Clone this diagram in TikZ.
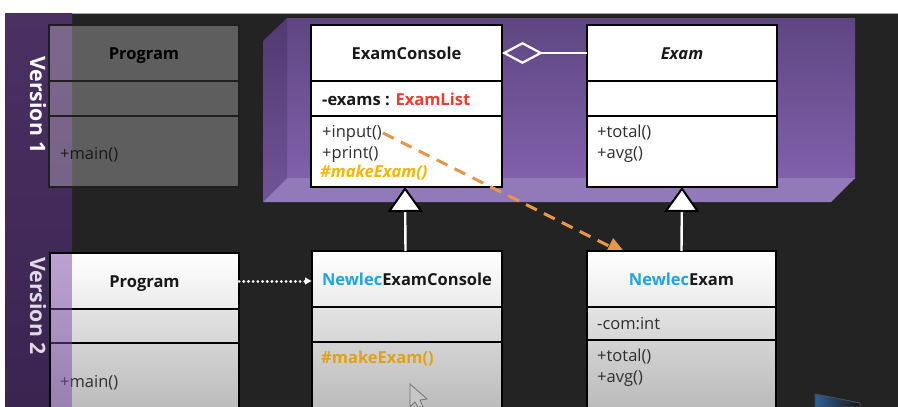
\documentclass[tikz,border=0pt]{standalone}
\usepackage{fontspec}
\setmainfont{Open Sans}
\usetikzlibrary{arrows.meta}
\definecolor{bgdark}{HTML}{232323}
\definecolor{bandtop}{HTML}{4B3064}
\definecolor{bandbot}{HTML}{3A2450}
\definecolor{newlecblue}{HTML}{1EA5E8}
\definecolor{makeyellow}{HTML}{F7B500}
\definecolor{makedim}{HTML}{DFA215}
\definecolor{listred}{HTML}{F03A2E}
\definecolor{dashorange}{HTML}{E8964A}
\definecolor{thumbblue}{HTML}{2D6098}
\tikzset{
  cell/.style={draw=black, line width=2.4pt, minimum width=#1, anchor=north west, outer sep=0pt, inner sep=0pt, text height=12pt, text depth=0pt, font=\fontsize{16.5}{18}\selectfont\bfseries, text=black!90},
  cell/.default=190pt,
  whitecell/.style={cell=#1, fill=white},
  newcell/.style={cell=#1, top color=white, bottom color=black!8},
  ghostcell/.style={cell=#1, draw=black!88, fill=white, fill opacity=0.27, text opacity=1, text=black},
  member/.style={anchor=west, inner sep=0pt, text height=12pt, text depth=0pt, font=\fontsize{16.5}{18}\selectfont, text=black!82},
  bandover/.style={fill={rgb,255:red,123;green,68;blue,168}, fill opacity=0.5},
  aggregate/.style={draw=white, line width=2pt, {Diamond[open, length=41pt, width=22pt, line width=2.2pt]}-},
  inherit/.style={draw=white, line width=2.4pt, -{Triangle[length=25pt, width=35pt, fill=white, color=black, line width=2pt]}},
  depend/.style={draw=white, line width=3pt, line cap=round, dash pattern=on 0.1pt off 4.6pt, -{Latex[length=7pt, width=8pt]}},
  callline/.style={draw=dashorange, line width=3pt, dash pattern=on 12pt off 8pt, -{Triangle[length=20pt, width=17pt]}},
}
\begin{document}
\begin{tikzpicture}[x=1pt,y=-1pt]

\clip (0,0) rectangle (898,407);

% Page and dark slide
\fill[white] (0,0) rectangle (898,407);
\fill[bgdark] (5,13) rectangle (898,407);
\draw[black!35, line width=0.8pt] (5,13) -- (898,13);

% Version band
\shade[top color=bandtop, bottom color=bandbot] (5,13) rectangle (72,407);
\node[rotate=-90, text=white, font=\fontsize{21.2}{22}\selectfont\bfseries] (versionone) at (38,105) {Version 1};
\node[rotate=-90, text=white!82!bandtop, font=\fontsize{21.2}{22}\selectfont\bfseries] (versiontwo) at (38,306) {Version 2};

% Purple block
\shade[top color={rgb,255:red,94;green,70;blue,130}, bottom color={rgb,255:red,128;green,96;blue,170}] (287,18) rectangle (855,178);
\shade[top color={rgb,255:red,80;green,58;blue,112}, bottom color={rgb,255:red,112;green,84;blue,152}] (263,41) -- (287,18) -- (287,178) -- (263,202) -- cycle;
\fill[fill={rgb,255:red,146;green,121;blue,186}] (263,202) -- (287,178) -- (855,178) -- (831,202) -- cycle;

% Program, version 1
\node[ghostcell=190pt, minimum height=56pt] (programone) at (49,25) {Program};
\node[ghostcell=190pt, minimum height=35pt] (programoneattr) at (49,81) {};
\node[ghostcell=190pt, minimum height=71pt] (programoneops) at (49,116) {};
\node[member, text=black!90] (programonemain) at (60,153) {+main()};

% ExamConsole
\node[whitecell=191pt, minimum height=56pt] (console) at (311,25) {ExamConsole};
\node[whitecell=191pt, minimum height=35pt] (consoleattr) at (311,81) {};
\node[whitecell=191pt, minimum height=71pt] (consoleops) at (311,116) {};
\node[member, font=\fontsize{16.5}{18}\selectfont\bfseries, text=black!90] (consoleexams) at (322,99) {-exams : \textcolor{listred}{ExamList}};
\node[member] (consoleinput) at (322,131) {+input()};
\node[member] (consoleprint) at (322,152) {+print()};
\node[member, text=makeyellow, font=\fontsize{16.5}{18}\selectfont\bfseries\itshape] (consolemake) at (320,171) {\#makeExam()};

% Exam
\node[whitecell=190pt, minimum height=56pt, font=\fontsize{16.5}{18}\selectfont\bfseries\itshape] (exam) at (587,25) {Exam};
\node[whitecell=190pt, minimum height=35pt] (examattr) at (587,81) {};
\node[whitecell=190pt, minimum height=71pt] (examops) at (587,116) {};
\node[member] (examtotal) at (597,131) {+total()};
\node[member] (examavg) at (597,152) {+avg()};

% Program, version 2
\node[newcell=189pt, minimum height=56pt] (programtwo) at (50,253) {Program};
\node[cell=189pt, minimum height=34pt, top color=black!11, bottom color=black!16] (programtwoattr) at (50,309) {};
\node[cell=189pt, minimum height=90pt, top color=black!17, bottom color=black!30] (programtwoops) at (50,343) {};
\node[member] (programtwomain) at (60,381) {+main()};
\fill[bandover] (51,254) rectangle (72,407);

% NewlecExamConsole
\node[newcell=190pt, minimum height=56pt] (newlecconsole) at (312,251) {\textcolor{newlecblue}{Newlec}ExamConsole};
\node[cell=190pt, minimum height=35pt, top color=black!11, bottom color=black!16] (newlecconsoleattr) at (312,307) {};
\node[cell=190pt, minimum height=90pt, top color=black!17, bottom color=black!30] (newlecconsoleops) at (312,342) {};
\node[member, text=makedim, font=\fontsize{16.5}{18}\selectfont\bfseries] (newlecconsolemake) at (321,357) {\#makeExam()};

% Mouse pointer
\draw[black!55, fill=black!22, line width=0.8pt] (410,384) -- (410,407) -- (415,402) -- (418,407) -- (423,407) -- (420,400) -- (427,399) -- cycle;

% Call from input to the new exam, under the box it ends at
\coordinate (callend) at (627,255);
\draw[callline] (consoleinput.east) ++(1,2) -- (callend);

% NewlecExam
\node[newcell=189pt, minimum height=56pt] (newlecexam) at (587,251) {\textcolor{newlecblue}{Newlec}Exam};
\node[cell=189pt, minimum height=33pt, top color=black!11, bottom color=black!16] (newlecexamattr) at (587,307) {};
\node[cell=189pt, minimum height=90pt, top color=black!17, bottom color=black!30] (newlecexamops) at (587,340) {};
\node[member] (newlecexamcom) at (597,323) {-com:int};
\node[member] (newlecexamtotal) at (597,355) {+total()};
\node[member] (newlecexamavg) at (597,376) {+avg()};

% Connectors
\draw[aggregate] (console.east) -- (exam.west);
\draw[inherit] ([xshift=-1.5pt]newlecconsole.north) -- ([xshift=-1.5pt]consoleops.south);
\draw[inherit] (newlecexam.north) -- (examops.south);
\draw[depend] (programtwo.east) -- (programtwo.east -| newlecconsole.west);

% Taskbar thumbnail, lower right
\draw[black!70, line width=1pt, left color=thumbblue, right color=black!92] (815,394) -- (860,403) -- (860,407) -- (815,407) -- cycle;

\end{tikzpicture}
\end{document}
